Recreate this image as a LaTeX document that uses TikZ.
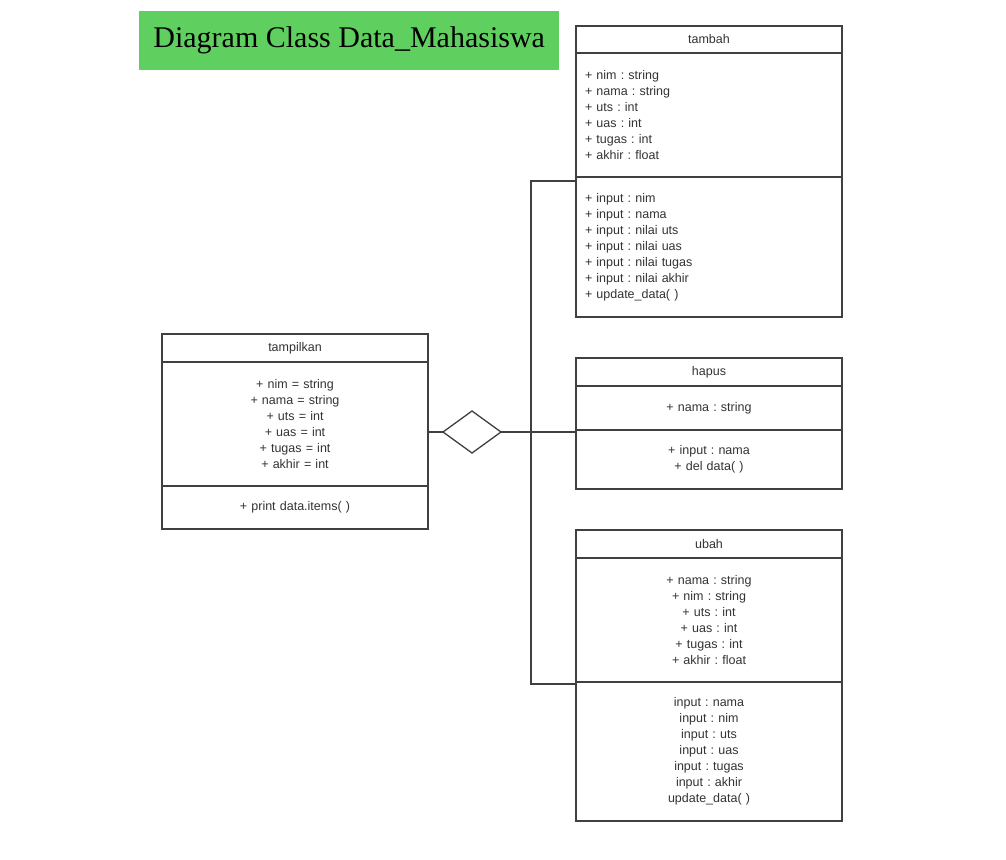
\documentclass[tikz,border=0pt]{standalone}
\usepackage{fontspec}
\setmainfont{Liberation Sans}
\newfontfamily\titlefont{Liberation Serif}
\usetikzlibrary{positioning,shapes.geometric}
\frenchspacing
\definecolor{titlegreen}{RGB}{95,208,95}
\definecolor{umlline}{RGB}{64,64,64}
\definecolor{umltext}{RGB}{51,51,51}
\tikzset{
  part/.style={draw=umlline, line width=1.3pt, minimum width=266pt, inner xsep=9pt,
    text width=248pt, outer sep=0pt, text=umltext, font=\fontsize{12.5}{16}\selectfont},
  partL/.style={part, align=left},
  partC/.style={part, align=center},
}
\begin{document}
\begin{tikzpicture}[x=1pt, y=-1pt]
  \useasboundingbox[fill=white] (0,0) rectangle (1006,859);
  \node[fill=titlegreen, minimum width=420pt, minimum height=59pt, anchor=north west,
    font=\titlefont\fontsize{30}{32}\selectfont] (title) at (139,11) {Diagram Class Data\_Mahasiswa};
  % tampilkan
  \node[partC, minimum height=28pt, anchor=north west] (tampilkanH) at (162,334) {tampilkan};
  \node[partC, minimum height=124pt, below=0pt of tampilkanH] (tampilkanA)
    {+ nim = string\\+ nama = string\\+ uts = int\\+ uas = int\\+ tugas = int\\+ akhir = int};
  \node[partC, minimum height=43pt, below=0pt of tampilkanA] (tampilkanM) {+ print data.items( )};
  % tambah
  \node[partC, minimum height=27pt, anchor=north west] (tambahH) at (576,26) {tambah};
  \node[partL, minimum height=124pt, below=0pt of tambahH] (tambahA)
    {+ nim : string\\+ nama : string\\+ uts : int\\+ uas : int\\+ tugas : int\\+ akhir : float};
  \node[partL, minimum height=140pt, below=0pt of tambahA] (tambahM)
    {+ input : nim\\+ input : nama\\+ input : nilai uts\\+ input : nilai uas\\+ input : nilai tugas\\+ input : nilai akhir\\+ update\_data( )};
  % hapus
  \node[partC, minimum height=28pt, anchor=north west] (hapusH) at (576,358) {hapus};
  \node[partC, minimum height=44pt, below=0pt of hapusH] (hapusA) {+ nama : string};
  \node[partC, minimum height=59pt, below=0pt of hapusA] (hapusM) {+ input : nama\\+ del data( )};
  % ubah
  \node[partC, minimum height=28pt, anchor=north west] (ubahH) at (576,530) {ubah};
  \node[partC, minimum height=124pt, below=0pt of ubahH] (ubahA)
    {+ nama : string\\+ nim : string\\+ uts : int\\+ uas : int\\+ tugas : int\\+ akhir : float};
  \node[partC, minimum height=139pt, below=0pt of ubahA] (ubahM)
    {input : nama\\input : nim\\input : uts\\input : uas\\input : tugas\\input : akhir\\update\_data( )};
  % aggregation
  \node[draw=umlline, line width=1.3pt, diamond, minimum width=58pt, minimum height=42pt,
    inner sep=0pt, outer sep=0pt] (agg) at (472,432) {};
  \coordinate (jn) at (531,432);
  \coordinate (jtop) at (531,181);
  \coordinate (jbot) at (531,684);
  \draw[umlline, line width=1.3pt] (tampilkanA.east |- agg) -- (agg.west);
  \draw[umlline, line width=1.3pt] (agg.east) -- (jn) -- (hapusH.west |- jn);
  \draw[umlline, line width=1.3pt] (tambahM.west |- jtop) -- (jtop) -- (jbot) -- (ubahM.west |- jbot);
\end{tikzpicture}
\end{document}
